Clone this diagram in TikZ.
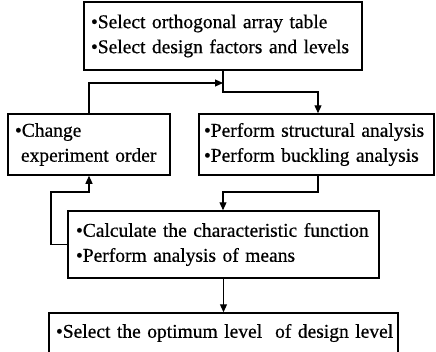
\documentclass[tikz,border=0pt]{standalone}
\usepackage{fontspec}
\setmainfont{Liberation Serif}[FakeBold=0.6]
\usetikzlibrary{arrows.meta}
\tikzset{
  box/.style={draw, line width=1.5pt, align=left, inner xsep=7pt, inner ysep=2pt,
    font=\fontsize{19.5}{25}\selectfont},
  conn/.style={line width=1.1pt},
  arr/.style={conn, -{Triangle[length=8pt,width=7pt]}}
}
\newcommand{\myline}[1]{\mbox{#1}}
\begin{document}
\begin{tikzpicture}[x=1pt,y=-1pt]
\useasboundingbox (0,0) rectangle (436,351);
\node[box, text width=264pt, minimum height=68pt] (b1) at (223,36)
  {\myline{\textbullet Select orthogonal array table}\\\myline{\textbullet Select design factors and levels}};
\node[box, text width=148pt, minimum height=61pt] (b2) at (89,144.5)
  {\myline{\textbullet Change}\\\myline{\hspace*{6pt}experiment order}};
\node[box, text width=225pt, minimum height=61pt, inner xsep=5pt] (b3) at (316.5,144.5)
  {\myline{\textbullet Perform structural analysis}\\\myline{\textbullet Perform buckling analysis}};
\node[box, text width=295pt, minimum height=67pt, inner xsep=8pt] (b4) at (223.5,244.5)
  {\myline{\textbullet Calculate the characteristic function}\\\myline{\textbullet Perform analysis of means}};
\node[box, text width=335pt, minimum height=40pt] (b5) at (223.5,333)
  {\myline{\textbullet Select the optimum level\ \ of design level}};
\coordinate (j1) at (223,83);
\coordinate (k1) at (223,92);
\coordinate (k2) at (318,92);
\coordinate (k3) at (318,192);
\coordinate (k4) at (223,192);
\coordinate (l1) at (51,244.5);
\coordinate (l2) at (51,192);
\coordinate (l3) at (89,192);
\draw[arr] (b1.south) -- (k1) -- (k2) -- (k2 |- b3.north);
\draw[arr] (b2.north) |- (j1);
\draw[arr] (k2 |- b3.south) -- (k3) -- (k4) -- (k4 |- b4.north);
\draw[arr] (b4.west) -- (l1) -- (l2) -- (l3) -- (b2.south);
\draw[arr] (b4.south) -- (b5.north);
\end{tikzpicture}
\end{document}
